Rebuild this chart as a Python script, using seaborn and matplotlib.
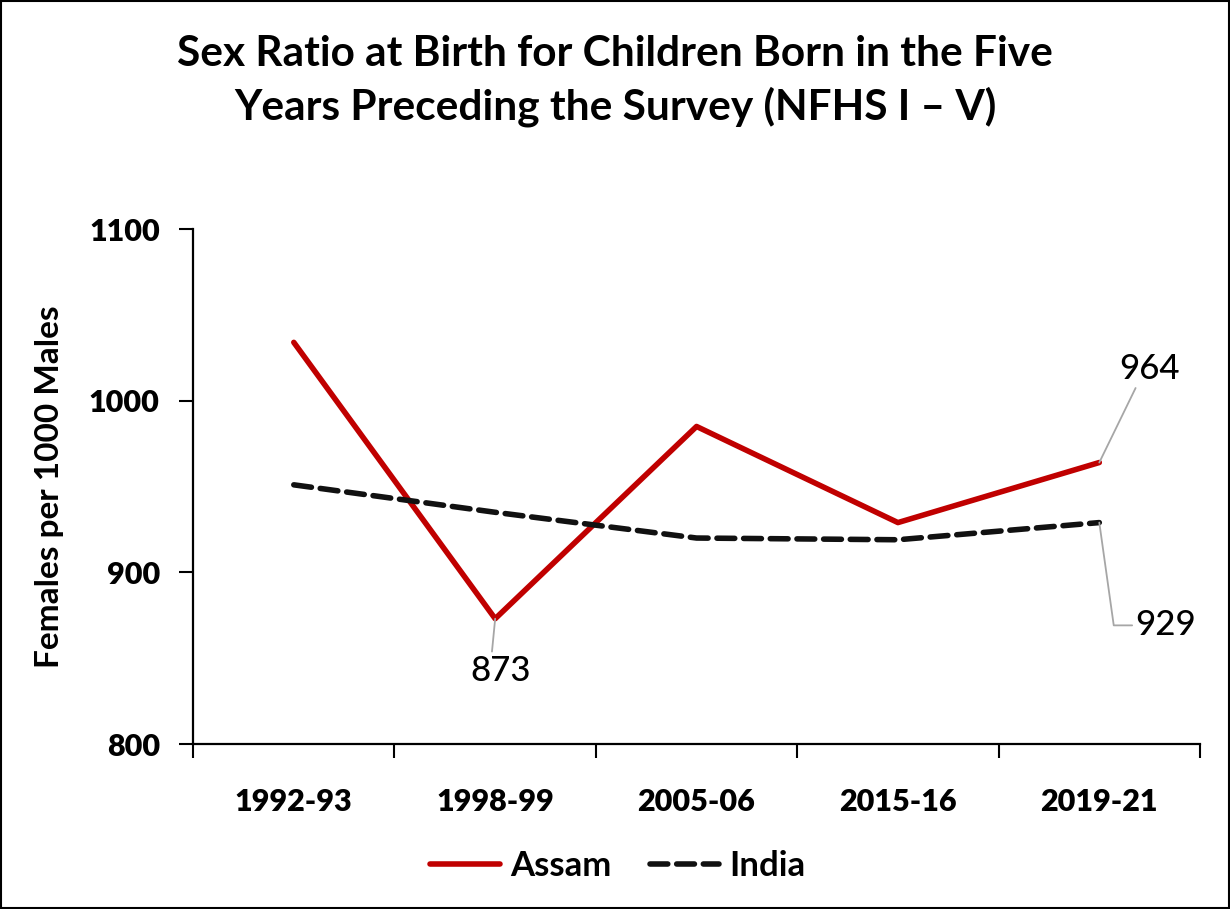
import matplotlib
matplotlib.use("Agg")
import matplotlib.pyplot as plt
import seaborn as sns
import pandas as pd


# =========================================================
# DATA
# =========================================================

rounds = ["1992-93", "1998-99", "2005-06", "2015-16", "2019-21"]
assam = [1034, 873, 985, 929, 964]
india = [951, 935, 920, 919, 929]

df = pd.DataFrame({
    "round": rounds * 2,
    "value": assam + india,
    "region": ["Assam"] * len(rounds) + ["India"] * len(rounds),
})


# =========================================================
# STYLE
# =========================================================

sns.set_theme(style="white")
plt.rcParams["font.family"] = ["Lato", "DejaVu Sans"]

fig = plt.figure(figsize=(12.3, 9.09), dpi=100)
ax = fig.add_axes([0.157, 0.1815, 0.8186, 0.5665])

sns.lineplot(
    data=df,
    x="round",
    y="value",
    hue="region",
    style="region",
    palette={"Assam": "#C00000", "India": "#111111"},
    dashes={"Assam": "", "India": (3.2, 1.6)},
    linewidth=4.0,
    sort=False,
    ax=ax,
)

for line in ax.get_lines():
    line.set_solid_capstyle("round")
    line.set_dash_capstyle("round")

ax.set_xlim(-0.5, len(rounds) - 0.5)
ax.set_ylim(800, 1100)
ax.set_yticks([800, 900, 1000, 1100])

# category ticks sit between the labels
ax.set_xticks([i - 0.5 for i in range(len(rounds) + 1)], minor=True)
ax.tick_params(axis="x", which="major", length=0, pad=32)
ax.tick_params(axis="x", which="minor", length=10, width=1.5,
               direction="out", color="black", bottom=True)
ax.tick_params(axis="y", length=10, width=1.5, direction="out",
               color="black", left=True, pad=14)

for lbl in ax.get_xticklabels() + ax.get_yticklabels():
    lbl.set_fontsize(22)
    lbl.set_fontweight("heavy")
    lbl.set_color("black")

for side in ["top", "right"]:
    ax.spines[side].set_visible(False)
for side in ["left", "bottom"]:
    ax.spines[side].set_color("black")
    ax.spines[side].set_linewidth(1.6)

ax.set_xlabel("")
ax.set_ylabel("Females per 1000 Males", fontsize=24,
              fontweight="bold", color="black", labelpad=18)

fig.suptitle(
    "Sex Ratio at Birth for Children Born in the Five\n"
    "Years Preceding the Survey (NFHS I \u2013 V)",
    x=0.5, y=0.962, fontsize=30.5, fontweight="bold",
    linespacing=1.42, color="black",
)


# =========================================================
# DATA LABELS
# =========================================================

grey = dict(arrowstyle="-", color="#A6A6A6", lw=1.3, shrinkA=0, shrinkB=0)

ax.annotate(str(assam[1]), xy=(1, assam[1]), xytext=(4, -26),
            textcoords="offset points", ha="center", va="top",
            fontsize=25, fontweight="medium", color="black",
            arrowprops=dict(grey, relpos=(0.35, 1.0)))

ax.annotate(str(assam[4]), xy=(4, assam[4]), xytext=(36, 56),
            textcoords="offset points", ha="center", va="bottom",
            fontsize=25, fontweight="medium", color="black",
            arrowprops=dict(grey, relpos=(0.3, 0.0)))

ax.annotate(str(india[4]), xy=(4, india[4]), xytext=(26, -74),
            textcoords="offset points", ha="left", va="center",
            fontsize=25, fontweight="medium", color="black",
            arrowprops=dict(grey, relpos=(0.0, 0.5),
                            connectionstyle="angle,angleA=0,angleB=98,rad=0"))


# =========================================================
# LEGEND
# =========================================================

leg = ax.legend(
    loc="upper center",
    bbox_to_anchor=(0.422, -0.145),
    ncol=2,
    frameon=False,
    fontsize=25,
    handlelength=2.0,
    handletextpad=0.3,
    columnspacing=1.1,
)
for txt in leg.get_texts():
    txt.set_fontweight("bold")
    txt.set_color("black")

# border round the whole picture
fig.patches.append(plt.Rectangle((0.001, 0.001), 0.998, 0.998,
                                 transform=fig.transFigure, fill=False,
                                 edgecolor="black", linewidth=1.5))

plt.savefig("out.png", dpi=100)
plt.close()
